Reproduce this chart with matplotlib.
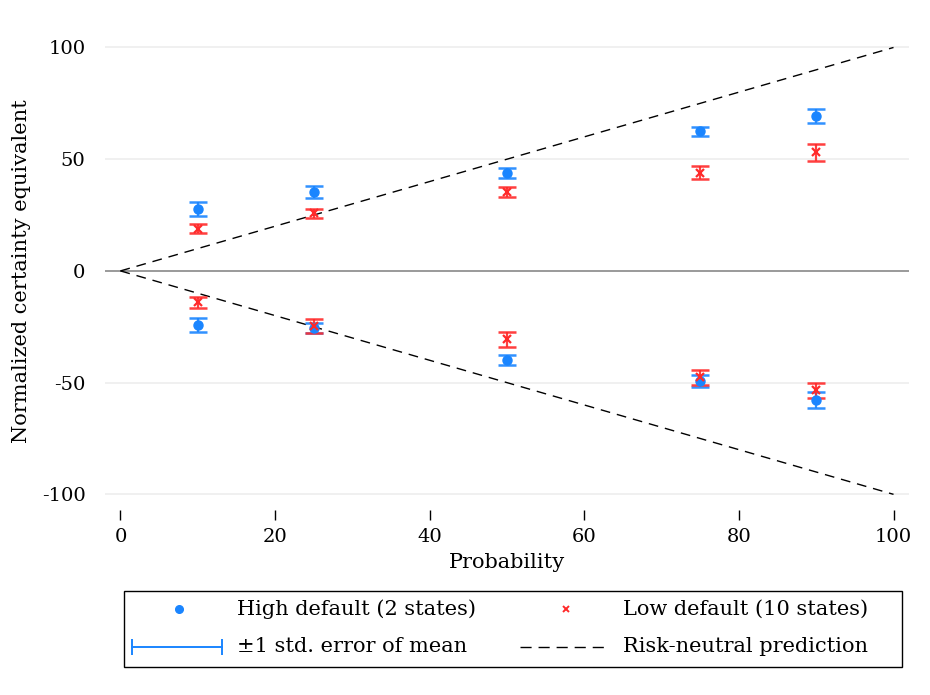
"""Certainty equivalents by win probability, split by state default rate."""

import matplotlib.pyplot as plt
import numpy as np
from matplotlib.lines import Line2D
from matplotlib.patches import Rectangle

BLUE = "#1A85FF"
RED = "#FF2A2A"
GRID = "#EEEEEE"
ZERO = "#9A9A9A"

plt.rcParams.update(
    {
        "font.family": ["DejaVu Serif"],
        "font.size": 15,
        "axes.unicode_minus": False,
    }
)

prob = np.array([10, 25, 50, 75, 90])

# High default states: gains (upper) and losses (lower) with std. errors
high_gain = np.array([27.7, 35.3, 43.8, 62.6, 69.4])
high_gain_se = np.array([3.0, 2.5, 2.3, 2.0, 3.0])
high_loss = np.array([-24.2, -25.5, -39.8, -49.2, -57.7])
high_loss_se = np.array([3.0, 2.2, 2.3, 2.7, 3.5])

# Low default states
low_gain = np.array([18.8, 25.7, 35.3, 44.0, 53.0])
low_gain_se = np.array([2.0, 2.0, 2.2, 3.0, 3.8])
low_loss = np.array([-14.0, -24.6, -30.6, -47.7, -53.5])
low_loss_se = np.array([2.5, 3.0, 3.3, 3.4, 3.5])

yticks = [-100, -50, 0, 50, 100]
xticks = [0, 20, 40, 60, 80, 100]

W, H = 930, 695


def draw_group(ax, y, se, color, marker, ms, mew):
    ax.errorbar(
        prob, y, yerr=se, fmt="none", ecolor=color, elinewidth=1.6,
        capsize=6.5, capthick=1.8, alpha=0.9, zorder=3,
    )
    ax.plot(prob, y, linestyle="none", marker=marker, color=color,
            markersize=ms, markeredgewidth=mew, zorder=4)


def px(x, y):
    """Pixel position (from top-left) to figure fraction."""
    return x / W, 1 - y / H


fig = plt.figure(figsize=(9.3, 6.95), dpi=100)
ax = fig.add_axes([0.1129, 0.2662, 0.8645, 0.688])

for yv in (-100, -50, 50, 100):
    ax.axhline(yv, color=GRID, linewidth=1.2, zorder=0)
ax.axhline(0, color=ZERO, linewidth=1.4, zorder=1)

# risk-neutral benchmark: certainty equivalent equals +/- probability
ax.plot([0, 100], [0, 100], color="black", linestyle=(0, (7, 5)), linewidth=1.0, zorder=2)
ax.plot([0, 100], [0, -100], color="black", linestyle=(0, (7, 5)), linewidth=1.0, zorder=2)

draw_group(ax, high_gain, high_gain_se, BLUE, "o", 6.5, 1.0)
draw_group(ax, high_loss, high_loss_se, BLUE, "o", 6.5, 1.0)
draw_group(ax, low_gain, low_gain_se, RED, "x", 5.5, 1.6)
draw_group(ax, low_loss, low_loss_se, RED, "x", 5.5, 1.6)

ax.set_xlim(-2, 102)
ax.set_ylim(-107, 107)
ax.set_xticks(xticks)
ax.set_yticks(yticks)
ax.tick_params(axis="both", labelsize=14)
ax.tick_params(axis="y", length=0, pad=14)
ax.tick_params(axis="x", length=7, width=1, pad=6)
for spine in ax.spines.values():
    spine.set_visible(False)

ax.set_xlabel("Probability", labelpad=5)
ax.set_ylabel("Normalized certainty equivalent", labelpad=8)

# legend box, laid out in figure pixels
fig.add_artist(Rectangle(px(124, 667), 778 / W, 76 / H, transform=fig.transFigure,
                         fill=False, edgecolor="black", linewidth=1.0))
row1, row2 = 609, 647
fig.add_artist(Line2D(*zip(px(179, row1)), transform=fig.transFigure,
                      marker="o", color=BLUE, markersize=5.5, linestyle="none"))
fig.add_artist(Line2D(*zip(px(566, row1)), transform=fig.transFigure,
                      marker="x", color=RED, markersize=5, markeredgewidth=1.4, linestyle="none"))
x0, y0 = px(132, row2)
x1, _ = px(222, row2)
fig.add_artist(Line2D([x0, x1], [y0, y0], transform=fig.transFigure, color=BLUE,
                      linewidth=1.4, marker="|", markersize=12, markeredgewidth=1.4))
x0, y0 = px(520, row2)
x1, _ = px(608, row2)
fig.add_artist(Line2D([x0, x1], [y0, y0], transform=fig.transFigure, color="black",
                      linestyle=(0, (8, 5)), linewidth=1.0))

labels = [
    (237, row1, "High default (2 states)"),
    (623, row1, "Low default (10 states)"),
    (237, row2, "±1 std. error of mean"),
    (623, row2, "Risk-neutral prediction"),
]
for lx, ly, text in labels:
    fx, fy = px(lx, ly)
    fig.text(fx, fy, text, ha="left", va="center")

fig.savefig("out.png", dpi=100)
